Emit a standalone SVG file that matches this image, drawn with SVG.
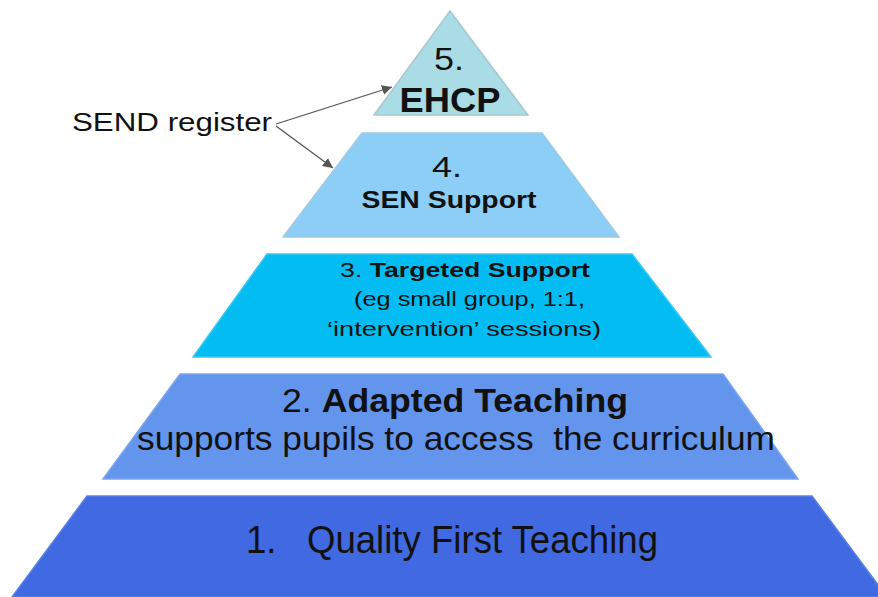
<svg xmlns="http://www.w3.org/2000/svg" width="878" height="597" viewBox="0 0 878 597">
<defs>
<marker id="ah" viewBox="0 0 10 10" refX="10" refY="5" markerWidth="10" markerHeight="10" markerUnits="userSpaceOnUse" orient="auto">
<path d="M0,0 L10,5 L0,10 z" fill="#555"/>
</marker>
<style>
text{font-family:"Liberation Sans",Arial,sans-serif;fill:#111;}
.b{font-weight:bold;}
.tier{stroke-width:1.5;}
.conn{stroke:#555;stroke-width:1.3;fill:none;}
</style>
</defs>
<rect width="878" height="597" fill="#fff"/>
<g id="tier1">
<polygon class="tier" points="87,496 812,496 887,597 12,597" fill="#4169e1" stroke="#5a7fe6"/>
<text x="452" y="553" font-size="38" text-anchor="middle" textLength="412" lengthAdjust="spacingAndGlyphs" xml:space="preserve">1.   Quality First Teaching</text>
</g>
<g id="tier2">
<polygon class="tier" points="180,374 723,374 798,479 103,479" fill="#6495ed" stroke="#7aa5ef"/>
<text x="455" y="412" font-size="33" text-anchor="middle" textLength="346" lengthAdjust="spacingAndGlyphs">2. <tspan class="b">Adapted Teaching</tspan></text>
<text x="456" y="450" font-size="33" text-anchor="middle" textLength="638" lengthAdjust="spacingAndGlyphs" xml:space="preserve">supports pupils to access  the curriculum</text>
</g>
<g id="tier3">
<polygon class="tier" points="267,254 632,254 711,357 193,357" fill="#03bdf2" stroke="#3ac9f2"/>
<text x="465" y="277" font-size="21" text-anchor="middle" textLength="250" lengthAdjust="spacingAndGlyphs">3. <tspan class="b">Targeted Support</tspan></text>
<text x="469.5" y="306" font-size="21" text-anchor="middle" textLength="231" lengthAdjust="spacingAndGlyphs">(eg small group, 1:1,</text>
<text x="464" y="336" font-size="21" text-anchor="middle" textLength="274" lengthAdjust="spacingAndGlyphs">‘intervention’ sessions)</text>
</g>
<g id="tier4">
<polygon class="tier" points="362,133 542,133 619,237 283,237" fill="#8ccef6" stroke="#9fc9e2"/>
<text x="447" y="177" font-size="30" text-anchor="middle" textLength="30" lengthAdjust="spacingAndGlyphs">4.</text>
<text x="449" y="208" font-size="24" class="b" text-anchor="middle" textLength="175" lengthAdjust="spacingAndGlyphs">SEN Support</text>
</g>
<g id="tier5">
<polygon class="tier" points="450,11 528,115 374,115" fill="#a9dce4" stroke="#a6c9cf"/>
<text x="449" y="70" font-size="32" text-anchor="middle" textLength="30" lengthAdjust="spacingAndGlyphs">5.</text>
<text x="450" y="112" font-size="35" class="b" text-anchor="middle" textLength="101" lengthAdjust="spacingAndGlyphs">EHCP</text>
</g>
<g id="send-label">
<text x="72" y="131" font-size="26" textLength="200" lengthAdjust="spacingAndGlyphs">SEND register</text>
</g>
<g id="connectors">
<line class="conn" x1="276" y1="124" x2="392" y2="87" marker-end="url(#ah)"/>
<line class="conn" x1="276" y1="126" x2="333" y2="168" marker-end="url(#ah)"/>
</g>
</svg>
